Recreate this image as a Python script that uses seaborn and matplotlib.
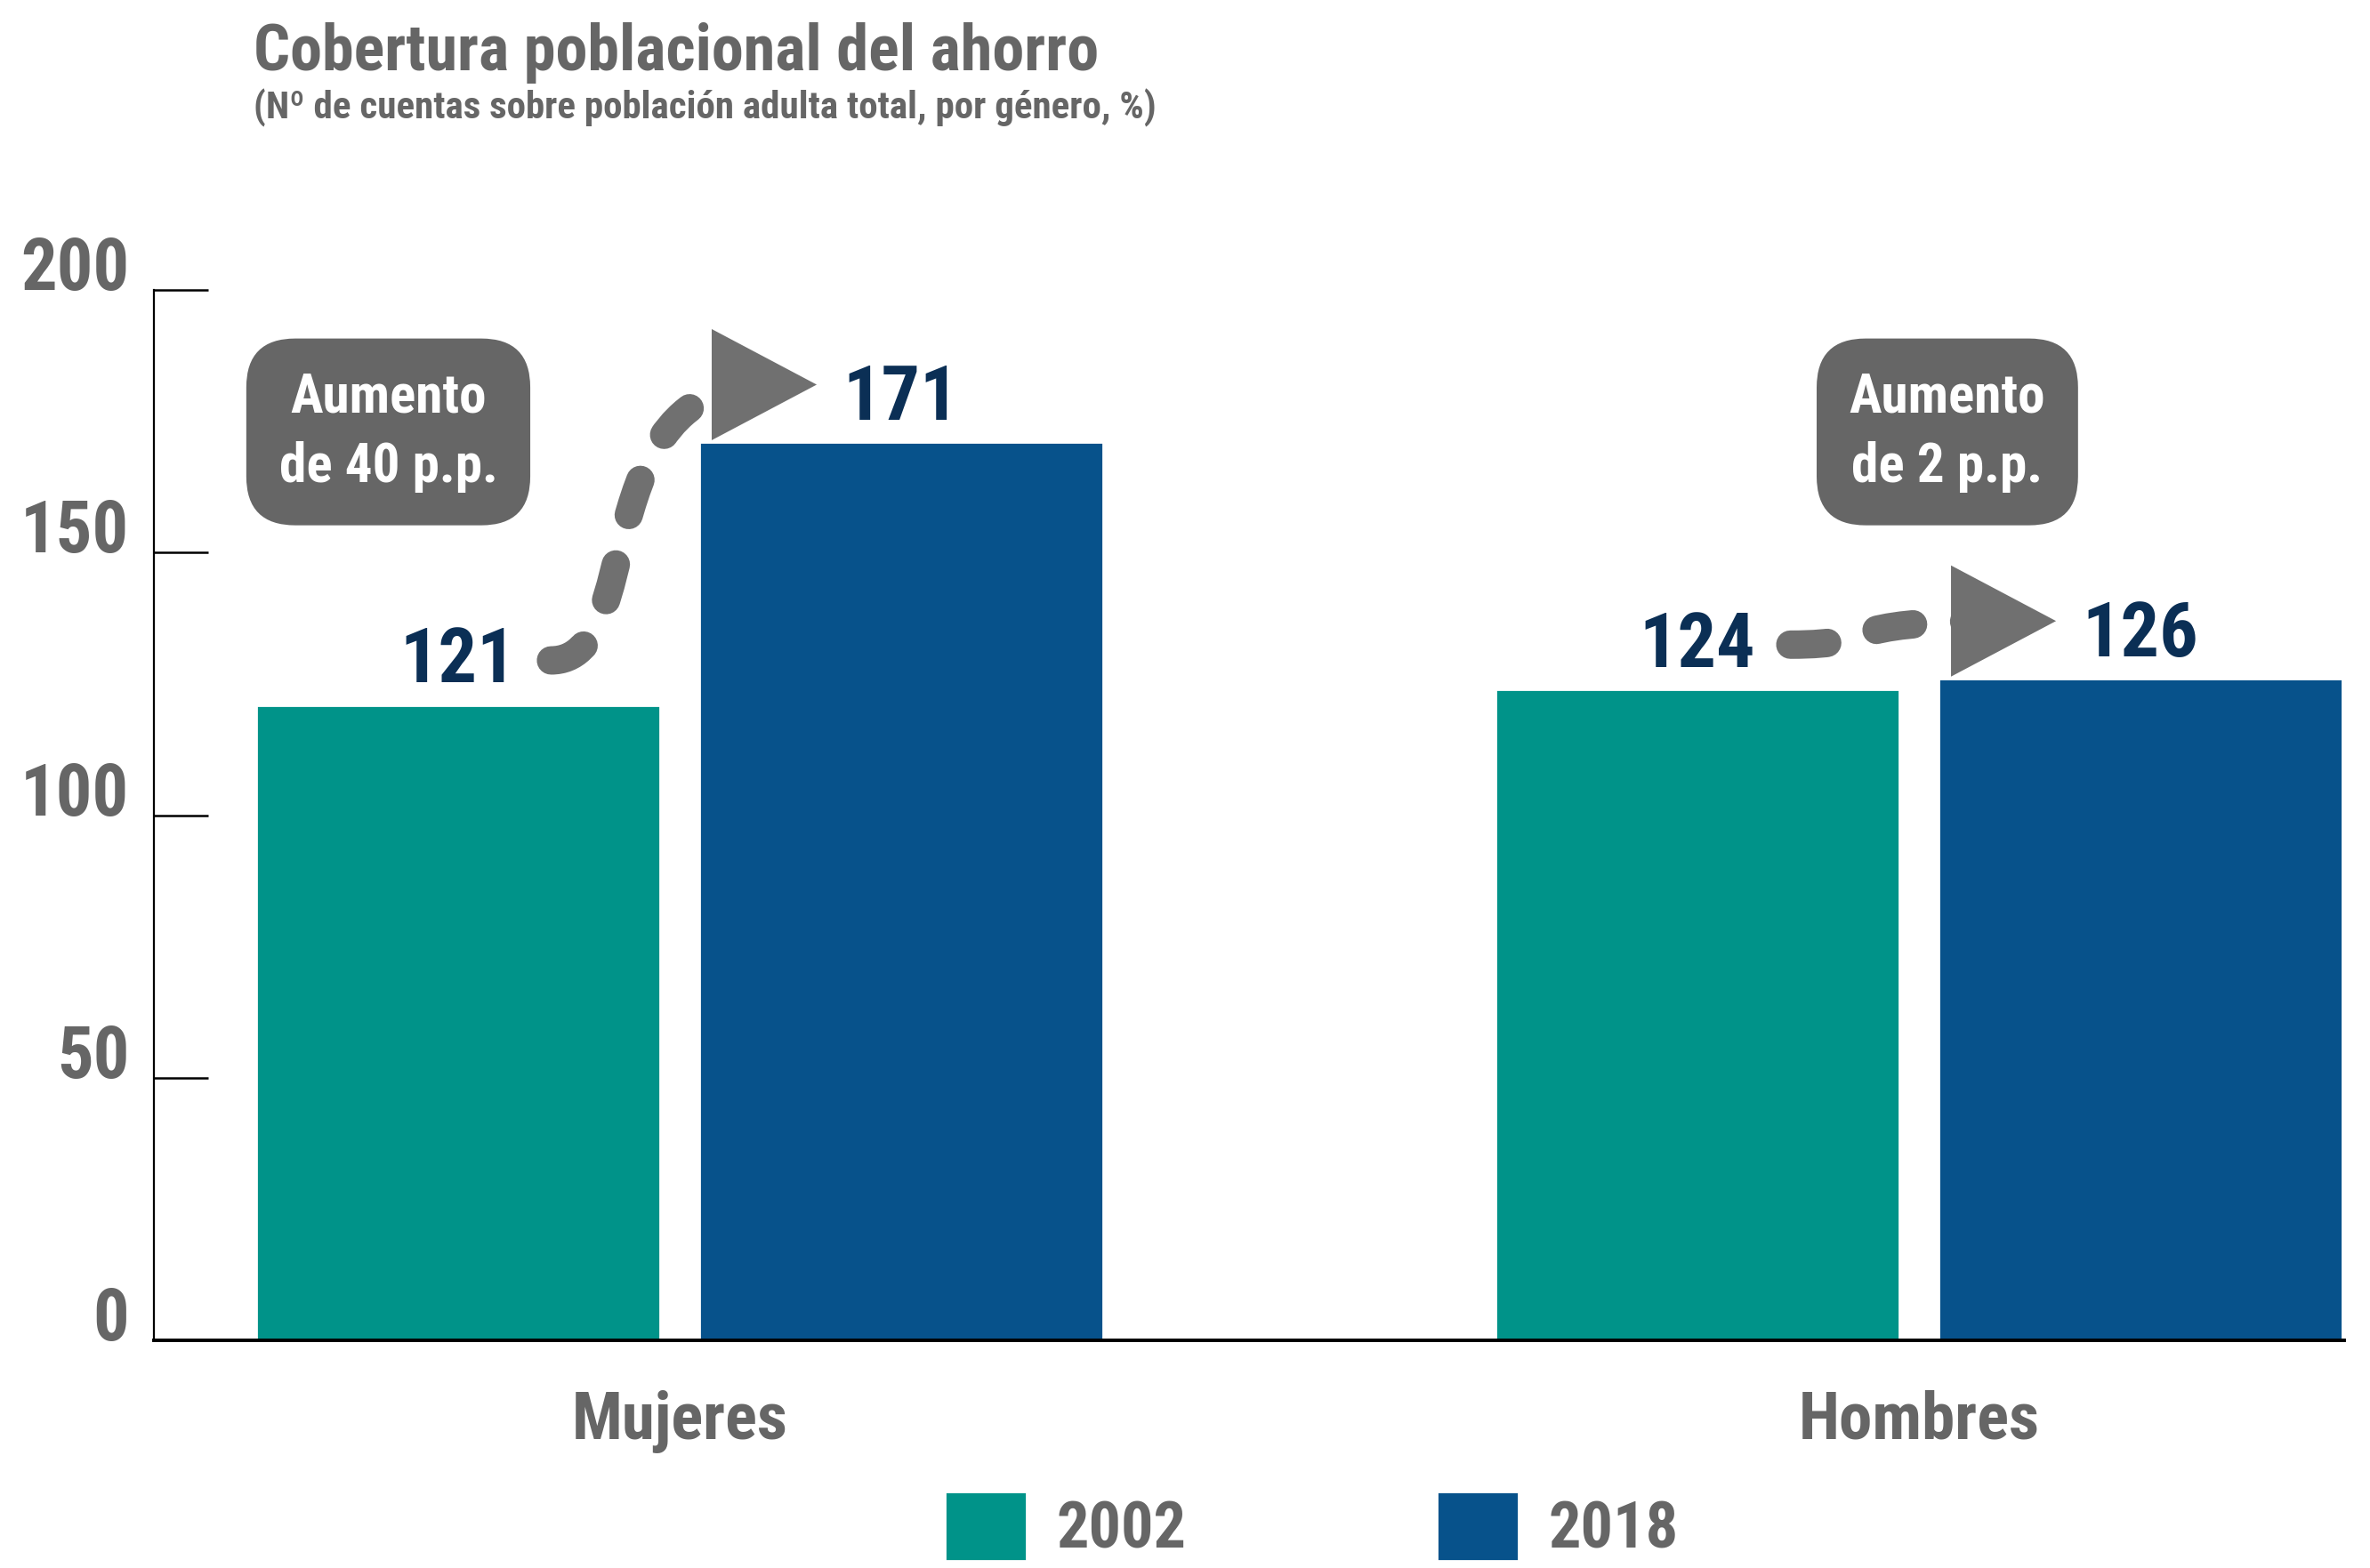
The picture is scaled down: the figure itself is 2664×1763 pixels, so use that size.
import matplotlib
matplotlib.use("Agg")
import matplotlib.pyplot as plt
import seaborn as sns
import pandas as pd
from matplotlib.patches import FancyArrowPatch, ArrowStyle
from matplotlib.path import Path

categories = ["Mujeres", "Hombres"]
years = ["2002", "2018"]
values_2002 = [121, 124]
values_2018 = [171, 126]
box_labels = ["Aumento\nde 40 p.p.", "Aumento\nde 2 p.p."]

TEAL = "#009389"
BLUE = "#07528B"
NAVY = "#0B2F55"
GRAY = "#666666"
ARROW = "#707070"

sns.set_style("white")
plt.rcParams["font.family"] = ["Roboto Condensed", "DejaVu Sans Condensed",
                               "Liberation Sans Narrow", "Roboto", "DejaVu Sans"]
plt.rcParams["font.stretch"] = "condensed"
plt.rcParams["font.weight"] = "bold"

df = pd.DataFrame({
    "genero": categories * 2,
    "anio": [years[0]] * 2 + [years[1]] * 2,
    "valor": values_2002 + values_2018,
})

fig = plt.figure(figsize=(13.32, 8.815), dpi=200)
ax = fig.add_axes([0.065, 0.145, 0.924, 0.67])

sns.barplot(data=df, x="genero", y="valor", hue="anio", palette=[TEAL, BLUE],
            width=0.715, gap=0.089, saturation=1, ax=ax)

ax.set_xlim(-0.424, 1.343)
ax.set_ylim(0, 200)
ax.set_yticks([0, 50, 100, 150, 200])
ax.set_xlabel("")
ax.set_ylabel("")
for s in ["top", "right"]:
    ax.spines[s].set_visible(False)
ax.spines["left"].set_color("black")
ax.spines["left"].set_linewidth(0.8)
ax.spines["bottom"].set_color("black")
ax.spines["bottom"].set_linewidth(1.4)
ax.tick_params(axis="y", left=True, direction="in", length=22, width=0.9, color="black",
               pad=10, labelsize=29, labelcolor=GRAY)
ax.tick_params(axis="x", bottom=False, length=0, pad=20, labelsize=27, labelcolor=GRAY)
for lab in ax.get_yticklabels():
    lab.set_verticalalignment("baseline")

# value labels
for cont in ax.containers:
    ax.bar_label(cont, fmt="%d", padding=3, fontsize=31, color=NAVY, fontweight="bold")

# increase boxes and dashed arrows
off = 0.1787
for i, cat in enumerate(categories):
    v0, v1 = values_2002[i], values_2018[i]
    bx = i - 0.235 if i == 0 else i + 0.023
    ax.text(bx, 173, box_labels[i], ha="center", va="center", fontsize=22,
            color="white", fontweight="bold", linespacing=1.45,
            bbox=dict(boxstyle="round,pad=0.6,rounding_size=0.9", fc=GRAY, ec="none"))

    x0, y0 = i - off + 0.075, v0 + 8.5
    tip = i + off - 0.068
    x1, y1 = tip - 0.04, v1 + 11
    dx = x1 - x0
    path = Path([(x0, y0), (x0 + 0.45 * dx, y0), (x0 + 0.15 * dx, y1), (x1, y1)],
                [Path.MOVETO, Path.CURVE4, Path.CURVE4, Path.CURVE4])
    line = FancyArrowPatch(path=path, arrowstyle="-", color=ARROW, lw=11.5,
                           linestyle=(0, (1.3, 1.8)), capstyle="round", zorder=4)
    ax.add_patch(line)
    head = FancyArrowPatch((tip - 0.08, y1), (tip, y1),
                           arrowstyle=ArrowStyle("-|>", head_length=0.85, head_width=0.45),
                           mutation_scale=50, color=ARROW, lw=0, shrinkA=0, shrinkB=0, zorder=5)
    ax.add_patch(head)

# legend
sns.move_legend(ax, loc="upper center", bbox_to_anchor=(0.5535, 0.049),
                bbox_transform=fig.transFigure, ncol=2, frameon=False, title=None,
                fontsize=26, handlelength=1.27, handleheight=1.3, handletextpad=0.47,
                columnspacing=3.9, borderpad=0, borderaxespad=0)
for t in ax.get_legend().get_texts():
    t.set_color(GRAY)

fig.text(0.107, 0.955, "Cobertura poblacional del ahorro", fontsize=26,
         color=GRAY, fontweight="bold", va="baseline")
fig.text(0.107, 0.924, "(Nº de cuentas sobre población adulta total, por género, %)",
         fontsize=15.5, color=GRAY, fontweight="bold", va="baseline")

fig.savefig("out.png", dpi=200)
